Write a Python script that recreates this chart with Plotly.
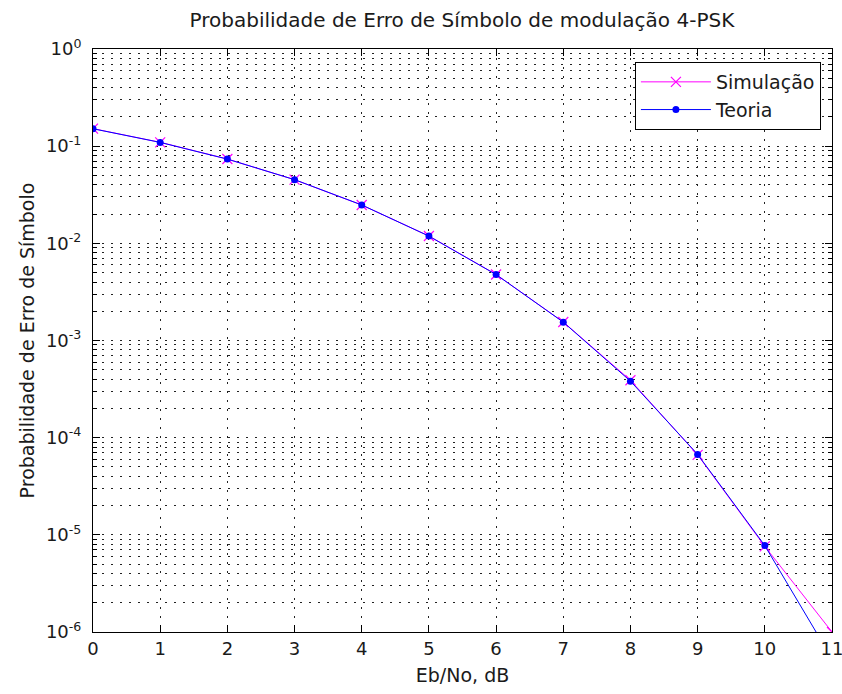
import plotly.graph_objects as go

ebno_db = [0, 1, 2, 3, 4, 5, 6, 7, 8, 9, 10, 11]
ser_sim = [0.1515, 0.1096, 0.0737, 0.0452, 0.0248, 0.0119, 0.00478, 0.00155, 0.000390, 0.0000665, 0.0000076, 0.0000010]
ser_theory = [0.1511, 0.1094, 0.0736, 0.04523, 0.02484, 0.01187, 0.004771, 0.001545, 0.0003818, 0.00006726, 0.000007744, 0.00000053]

ytick_vals = [1e-6, 1e-5, 1e-4, 1e-3, 1e-2, 1e-1, 1]
ytick_text = ["10<sup>-6</sup>", "10<sup>-5</sup>", "10<sup>-4</sup>", "10<sup>-3</sup>",
              "10<sup>-2</sup>", "10<sup>-1</sup>", "10<sup>0</sup>"]
minor_vals = [m * 10.0 ** e for e in range(-6, 0) for m in range(2, 10)]

FONT = "DejaVu Sans, sans-serif"
TXT = "#1a1a1a"
GRID_DASH = "2px,7px"

fig = go.Figure()
fig.add_trace(go.Scatter(
    x=ebno_db, y=ser_sim, name="Simulação", mode="lines+markers",
    line=dict(color="#FF00FF", width=1),
    marker=dict(symbol="x-thin", size=10, line=dict(color="#FF00FF", width=1.2), color="#FF00FF"),
))
fig.add_trace(go.Scatter(
    x=ebno_db, y=ser_theory, name="Teoria", mode="lines+markers",
    line=dict(color="#0000FF", width=1),
    marker=dict(symbol="circle", size=7, color="#0000FF"),
))

axis_common = dict(
    showline=True, linecolor="black", linewidth=1, mirror="ticks",
    ticks="inside", ticklen=7, tickcolor="black",
    showgrid=True, gridcolor="#222", gridwidth=1, griddash=GRID_DASH,
    zeroline=False, automargin=False,
    ticklabeloverflow="allow",
    tickfont=dict(family=FONT, size=18, color=TXT),
)

fig.update_layout(
    width=842, height=694,
    margin=dict(l=93, r=10, t=49, b=62),
    paper_bgcolor="white", plot_bgcolor="white",
    title=dict(text="Probabilidade de Erro de Símbolo de modulação 4-PSK",
               x=0.5486, xanchor="center", y=0.971, yanchor="middle",
               font=dict(family=FONT, size=20, color=TXT)),
    xaxis=dict(range=[0, 11], tickvals=ebno_db,
               title=dict(text="Eb/No, dB", font=dict(family=FONT, size=19, color=TXT), standoff=11),
               **axis_common),
    yaxis=dict(type="log", range=[-6, 0], tickvals=ytick_vals, ticktext=ytick_text,
               ticklabelstandoff=7,
               minor=dict(tickvals=minor_vals, ticks="inside", ticklen=4, tickcolor="black",
                          showgrid=True, gridcolor="#222", griddash=GRID_DASH, gridwidth=1),
               title=dict(text="Probabilidade de Erro de Símbolo", font=dict(family=FONT, size=19, color=TXT), standoff=6),
               **axis_common),
    legend=dict(x=0.985, xanchor="right", y=0.9777, yanchor="top",
                bgcolor="white", bordercolor="black", borderwidth=1,
                font=dict(family=FONT, size=19, color=TXT),
                itemwidth=70, tracegroupgap=0),
    showlegend=True,
)

fig.write_html("out.html")
